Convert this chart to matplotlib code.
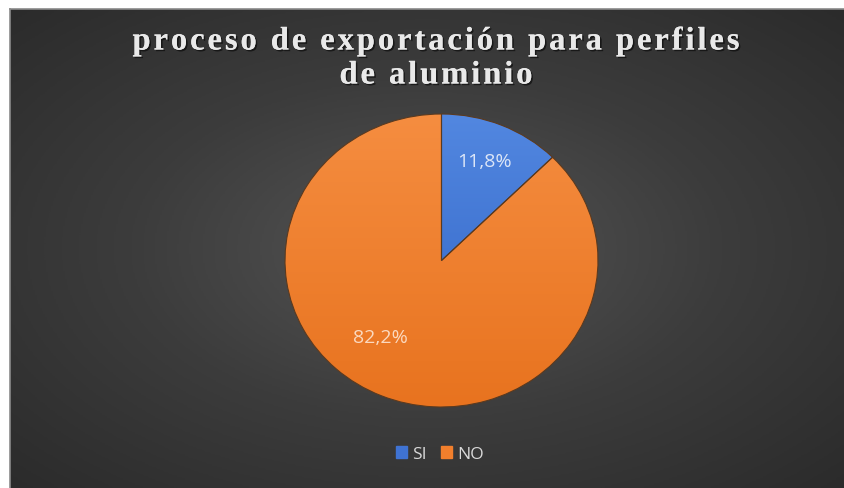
import numpy as np
import matplotlib
matplotlib.use("Agg")
import matplotlib.pyplot as plt
import matplotlib.patheffects as pe
from matplotlib.colors import LinearSegmentedColormap
from matplotlib.font_manager import FontProperties
from matplotlib.textpath import text_to_path

# datos del grafico
categorias = ["SI", "NO"]
valores = [11.8, 82.2]
colores = ["#3f73d3", "#f27f2c"]
colores_claros = ["#5287e0", "#f58d40"]
colores_oscuros = ["#2f62c4", "#e8731f"]
titulo = ["proceso de exportación para perfiles", "de aluminio"]

# posiciones de las etiquetas (en radios)
pos_etiquetas = [(0.275, 0.68), (-0.387, -0.52)]
color_etiquetas = ["#dce6f7", "#fbd9bf"]

W, H = 844, 489
fig = plt.figure(figsize=(W / 100, H / 100), dpi=100, facecolor="white")

# fondo oscuro con degradado radial
bg = fig.add_axes([10 / W, 0, 1 - 10 / W, 1 - 10 / H])
yy, xx = np.mgrid[-1:1:300j, -1:1:500j]
rr = np.sqrt((xx * 0.95) ** 2 + (yy * 0.95) ** 2)
bg_cmap = LinearSegmentedColormap.from_list("bg", ["#555555", "#3c3c3c", "#2b2b2b"])
bg.imshow(rr, cmap=bg_cmap, aspect="auto", extent=[0, 1, 0, 1], vmin=0, vmax=1.35)
bg.set_xlim(0, 1)
bg.set_ylim(0, 1)
bg.set_xticks([])
bg.set_yticks([])
for s in bg.spines.values():
    s.set_visible(False)
bg.plot([0, 0], [0, 1], color="#8a8a8a", lw=1.2, transform=bg.transAxes, clip_on=False)
bg.plot([0, 1], [1, 1], color="#8a8a8a", lw=1.2, transform=bg.transAxes, clip_on=False)

# pastel (la imagen original esta un poco estirada en horizontal)
x0, x1, y0, y1 = 285, 598, 115, 408
ax = fig.add_axes([x0 / W, (H - y1) / H, (x1 - x0) / W, (y1 - y0) / H])
ax.set_facecolor("none")
wedges, textos = ax.pie(
    valores, colors=colores, startangle=90, counterclock=False, radius=1,
    wedgeprops=dict(edgecolor="#5a3a20", linewidth=0.8),
)
ax.set_xlim(-1, 1)
ax.set_ylim(-1, 1)
ax.set_aspect("auto")
ax.axis("off")

# degradado dentro de cada porcion
grad = np.linspace(0, 1, 200).reshape(-1, 1)
for w, c1, c2 in zip(wedges, colores_claros, colores_oscuros):
    cm = LinearSegmentedColormap.from_list("g", [c1, c2])
    im = ax.imshow(grad, cmap=cm, extent=[-1, 1, -1, 1], origin="upper", aspect="auto", zorder=2)
    im.set_clip_path(w)
for w in wedges:
    w.set_zorder(3)
    w.set_facecolor("none")

for v, (px, py), col in zip(valores, pos_etiquetas, color_etiquetas):
    ax.text(px, py, f"{v:.1f}%".replace(".", ","), ha="center", va="center",
            fontsize=14, color=col, family="Open Sans", zorder=5)

# titulo con espaciado entre letras
fp = FontProperties(family="Liberation Serif", weight="bold", size=23.5)
sombra = [pe.withSimplePatchShadow(offset=(1.2, -1.2), shadow_rgbFace="black", alpha=0.55), pe.Normal()]


def ancho(ch):
    w, h, d = text_to_path.get_text_width_height_descent(ch, fp, ismath=False)
    return w * 100 / 72


ancho_linea1 = 607
espacio = (ancho_linea1 - sum(ancho(c) for c in titulo[0])) / (len(titulo[0]) - 1)
centro_x = 436
for linea, yc in zip(titulo, [42, 76]):
    total = sum(ancho(c) for c in linea) + espacio * (len(linea) - 1)
    x = centro_x - total / 2
    for ch in linea:
        fig.text(x / W, 1 - yc / H, ch, ha="left", va="center", fontproperties=fp,
                 color="#e9e9e9", path_effects=sombra)
        x += ancho(ch) + espacio

# leyenda
handles = [plt.Rectangle((0, 0), 1, 1, color=c) for c in colores]
leg = fig.legend(handles, categorias, loc="center", bbox_to_anchor=(440 / W, 1 - 455 / H), ncol=2,
                 frameon=False, handlelength=0.65, handleheight=0.65,
                 handletextpad=0.3, columnspacing=0.8, labelcolor="#d9d9d9",
                 prop=dict(family="Open Sans", size=12.5))

fig.savefig("out.png", dpi=100, facecolor="white")
